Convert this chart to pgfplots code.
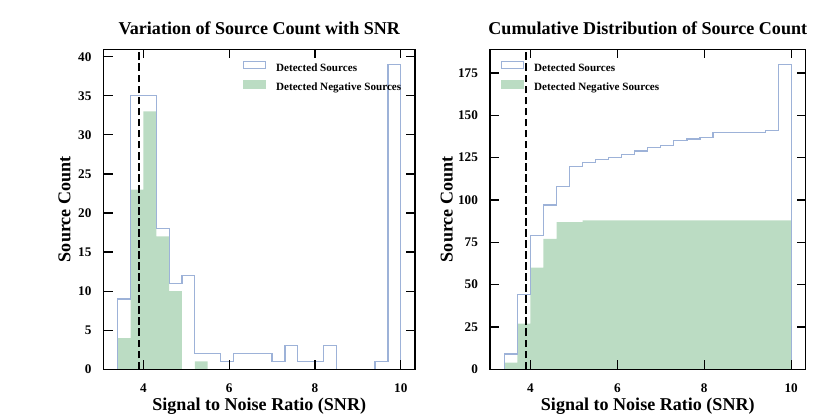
\documentclass[border=0pt]{standalone}
\usepackage{fontspec}
\setmainfont{Liberation Serif}
\usepackage{pgfplots}
\pgfplotsset{compat=1.18}
\definecolor{outl}{HTML}{9DB2D8}
\definecolor{grn}{HTML}{BBDCC3}
\newcommand{\lblfont}{\fontsize{13bp}{15bp}\selectfont\bfseries}
\pgfplotsset{
  hist/.style={
    scale only axis, axis on top,
    height=230.4bp,
    xmin=3.07, xmax=10.33, ymin=0,
    xtick={4,6,8,10},
    tick align=inside,
    major tick length=6.5bp,
    minor tick num=0,
    tick style={black, line width=0.9bp},
    axis line style={line width=1bp},
    /pgf/number format/assume math mode=true,
    ticklabel style={font=\fontsize{9.5bp}{11bp}\selectfont\bfseries, inner sep=0pt},
    xticklabel style={anchor=north, yshift=-10bp},
    yticklabel style={anchor=east, xshift=-8.5bp},
    title style={font=\lblfont, at={(axis description cs:0.5,1.0206)}, anchor=base, inner sep=0pt},
    xlabel style={font=\lblfont, at={(axis description cs:0.5,-0.1272)}, anchor=base, inner sep=0pt},
    ylabel style={font=\lblfont, anchor=base, inner sep=0pt},
    xlabel={Signal to Noise Ratio (SNR)},
    ylabel={Source Count},
    legend style={draw=none, fill=none, inner sep=0pt, outer sep=0pt,
      font=\fontsize{8bp}{9bp}\selectfont\bfseries,
      nodes={inner sep=0pt, text height=5.5bp, text depth=1.5bp},
      column sep=7.2bp, row sep=4.7bp},
    legend cell align=left,
  }
}
\begin{document}
\begin{tikzpicture}
\useasboundingbox (0,0) rectangle (597.6bp,298.8bp);
% Left panel
\begin{axis}[hist, at={(74.5bp,32.9bp)}, anchor=south west, width=224.3bp,
  ymax=40.95, ytick={0,5,...,40},
  title={Variation of Source Count with SNR},
  ylabel style={at={(axis description cs:-0.1061,0.5)}},
  legend style={at={(0.4468,0.9644)}, anchor=north west}]
\addlegendimage{legend image code/.code={\draw[outl, line width=0.9bp] (0bp,0bp) rectangle (16bp,5.4bp);}}
\addlegendentry{Detected Sources}
\addlegendimage{legend image code/.code={\fill[grn] (0bp,0bp) rectangle (16bp,5.4bp);}}
\addlegendentry{Detected Negative Sources}
\addplot[fill=grn, draw=none, const plot mark left, forget plot] coordinates {
 (3.4,0)(3.4,4)(3.7,23)(4.0,33)(4.3,17)(4.6,10)(4.9,0)(5.2,1)(5.5,0)(5.8,0)(6.1,0)(6.4,0)(6.7,0)(7.0,0)(7.3,0)(7.6,0)(7.9,0)(8.2,0)(8.5,0)(8.8,0)(9.1,0)(9.4,0)(9.7,0)(10,0)} \closedcycle;
\addplot[draw=outl, line width=0.9bp, const plot mark left, forget plot] coordinates {
 (3.4,0)(3.4,9)(3.7,35)(4.0,35)(4.3,18)(4.6,11)(4.9,12)(5.2,2)(5.5,2)(5.8,1)(6.1,2)(6.4,2)(6.7,2)(7.0,1)(7.3,3)(7.6,1)(7.9,1)(8.2,3)(8.5,0)(8.8,0)(9.1,0)(9.4,1)(9.7,39)(10,39)(10,0)};
\addplot[black, line width=1.6bp, dash pattern=on 5.55bp off 2.4bp, forget plot] coordinates {(3.9,0)(3.9,40.95)};
\end{axis}
% Right panel
\begin{axis}[hist, at={(352.8bp,32.9bp)}, anchor=south west, width=227.2bp,
  ymax=189, ytick={0,25,...,175},
  title={Cumulative Distribution of Source Count},
  ylabel style={at={(axis description cs:-0.1188,0.5)}},
  legend style={at={(0.0339,0.9644)}, anchor=north west}]
\addlegendimage{legend image code/.code={\draw[outl, line width=0.9bp] (0bp,0bp) rectangle (16bp,5.4bp);}}
\addlegendentry{Detected Sources}
\addlegendimage{legend image code/.code={\fill[grn] (0bp,0bp) rectangle (16bp,5.4bp);}}
\addlegendentry{Detected Negative Sources}
\addplot[fill=grn, draw=none, const plot mark left, forget plot] coordinates {
 (3.4,0)(3.4,4)(3.7,27)(4.0,60)(4.3,77)(4.6,87)(4.9,87)(5.2,88)(5.5,88)(5.8,88)(6.1,88)(6.4,88)(6.7,88)(7.0,88)(7.3,88)(7.6,88)(7.9,88)(8.2,88)(8.5,88)(8.8,88)(9.1,88)(9.4,88)(9.7,88)(10,88)(10,0)} \closedcycle;
\addplot[draw=outl, line width=0.9bp, const plot mark left, forget plot] coordinates {
 (3.4,0)(3.4,9)(3.7,44)(4.0,79)(4.3,97)(4.6,108)(4.9,120)(5.2,122)(5.5,124)(5.8,125)(6.1,127)(6.4,129)(6.7,131)(7.0,132)(7.3,135)(7.6,136)(7.9,137)(8.2,140)(8.5,140)(8.8,140)(9.1,140)(9.4,141)(9.7,180)(10,180)(10,0)};
\addplot[black, line width=1.6bp, dash pattern=on 5.55bp off 2.4bp, forget plot] coordinates {(3.9,0)(3.9,189)};
\end{axis}
\end{tikzpicture}
\end{document}
